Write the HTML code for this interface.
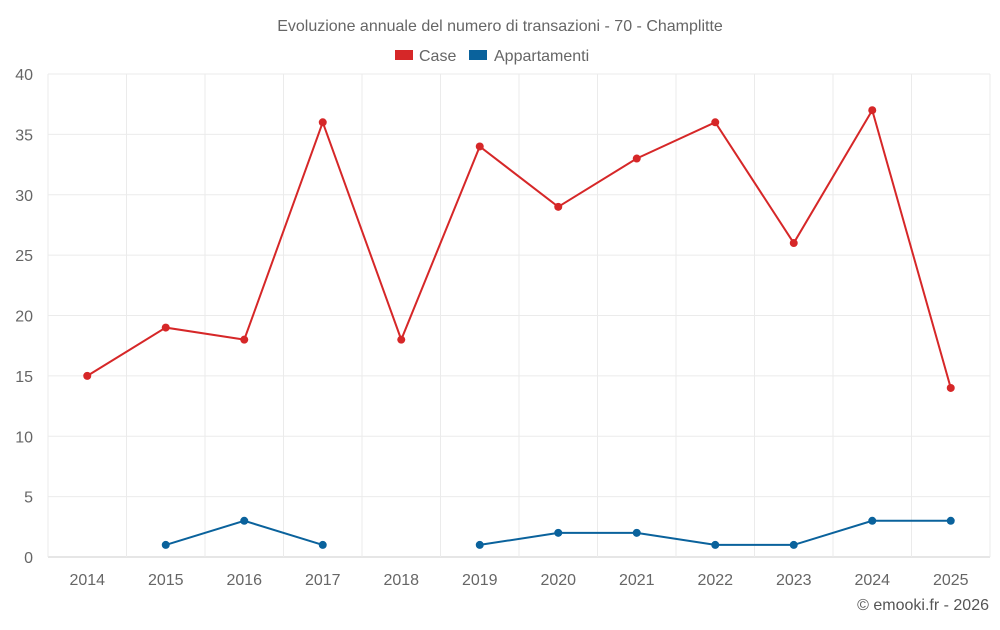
<!DOCTYPE html>
<html><head><meta charset="utf-8"><style>
body{margin:0;background:#fff;font-family:"Liberation Sans",sans-serif;}
svg text{font-family:"Liberation Sans",sans-serif;}
</style></head><body>
<svg id="chart" width="1000" height="625" xmlns="http://www.w3.org/2000/svg">
<text x="500" y="31" text-anchor="middle" font-size="16" fill="#666">Evoluzione annuale del numero di transazioni - 70 - Champlitte</text>
<g>
<g><rect x="395" y="50" width="18" height="10" fill="#d62728"/><text x="419" y="61" font-size="16" fill="#666">Case</text></g>
<g><rect x="469" y="50" width="18" height="10" fill="#0a629c"/><text x="494" y="61" font-size="16" fill="#666">Appartamenti</text></g>
</g>
<g id="grid"></g>
<g id="axes"></g>
<g id="series"></g>
<text x="989" y="610" text-anchor="end" font-size="16" fill="#555">© emooki.fr - 2026</text>
</svg>
<script>
const categories=["2014","2015","2016","2017","2018","2019","2020","2021","2022","2023","2024","2025"];
const caseValues=[15,19,18,36,18,34,29,33,36,26,37,14];
const appartamentiValues=[null,1,3,1,null,1,2,2,1,1,3,3];
const yTicks=[0,5,10,15,20,25,30,35,40];
const NS="http://www.w3.org/2000/svg";
const L=48,R=990,T=74,B=557,yMax=40;
const step=(R-L)/categories.length;
const x=i=>L+step*(i+0.5);
const y=v=>B-(v/yMax)*(B-T);
function mk(tag,attrs,parent){const e=document.createElementNS(NS,tag);for(const k in attrs)e.setAttribute(k,attrs[k]);parent.appendChild(e);return e;}
const grid=document.getElementById('grid'),axes=document.getElementById('axes'),series=document.getElementById('series');
yTicks.forEach(t=>{
  const l=mk('line',{x1:L,x2:R,y1:y(t),y2:y(t),stroke:t===0?'#ccc':'#ebebeb','stroke-width':1},grid);
  
  
  const tx=mk('text',{x:33,y:y(t)+6,'text-anchor':'end','font-size':16,fill:'#666'},axes);
  tx.textContent=t;
  
  
});
for(let i=0;i<=categories.length;i++){
  const l=mk('line',{x1:L+step*i,x2:L+step*i,y1:T,y2:B,stroke:'#ebebeb','stroke-width':1},grid);
  
  
}
categories.forEach((c,i)=>{
  const tx=mk('text',{x:x(i),y:585,'text-anchor':'middle','font-size':16,fill:'#666'},axes);
  tx.textContent=c;
  
  
});
function draw(vals,color,name){
  let seg=[];const segs=[];
  vals.forEach((v,i)=>{if(v==null){if(seg.length)segs.push(seg);seg=[];}else seg.push([x(i),y(v)]);});
  if(seg.length)segs.push(seg);
  segs.forEach(s=>{
    const p=mk('polyline',{points:s.map(q=>q.join(',')).join(' '),fill:'none',stroke:color,'stroke-width':2},series);
    
    
  });
  vals.forEach((v,i)=>{if(v==null)return;
    const c=mk('circle',{cx:x(i),cy:y(v),r:4,fill:color},series);
    
    
  });
}
draw(caseValues,'#d62728','case');
draw(appartamentiValues,'#0a629c','appartamenti');
</script>
</body></html>
